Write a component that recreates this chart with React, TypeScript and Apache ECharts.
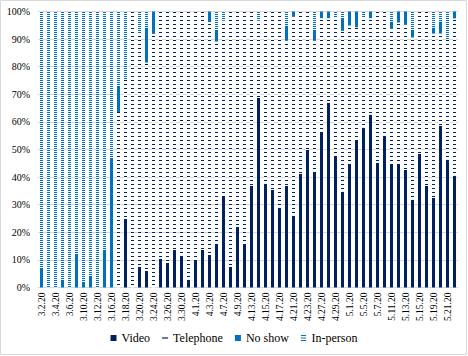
import React, { useEffect, useRef } from 'react';
import * as echarts from 'echarts';

const categories = [
  '3.2.20', '3.3.20', '3.4.20', '3.5.20', '3.6.20',
  '3.9.20', '3.10.20', '3.11.20', '3.12.20', '3.13.20',
  '3.16.20', '3.17.20', '3.18.20', '3.19.20', '3.20.20',
  '3.23.20', '3.24.20', '3.25.20', '3.26.20', '3.27.20',
  '3.30.20', '3.31.20', '4.1.20', '4.2.20', '4.3.20',
  '4.6.20', '4.7.20', '4.8.20', '4.9.20', '4.10.20',
  '4.13.20', '4.14.20', '4.15.20', '4.16.20', '4.17.20',
  '4.20.20', '4.21.20', '4.22.20', '4.23.20', '4.24.20',
  '4.27.20', '4.28.20', '4.29.20', '4.30.20', '5.1.20',
  '5.4.20', '5.5.20', '5.6.20', '5.7.20', '5.8.20',
  '5.11.20', '5.12.20', '5.13.20', '5.14.20', '5.15.20',
  '5.18.20', '5.19.20', '5.20.20', '5.21.20', '5.22.20',
];

const video = [
  0, 0, 0, 0, 0,
  0, 0, 0, 0, 0,
  0, 0, 24.9, 0, 7.5,
  6.0, 0, 10.4, 8.9, 13.6,
  11.5, 2.8, 10.0, 13.6, 11.8,
  15.8, 33.2, 7.5, 22.0, 15.8,
  36.8, 68.7, 37.6, 35.4, 28.9,
  36.8, 26.0, 41.2, 49.9, 41.9,
  56.4, 66.9, 47.7, 34.7, 44.8,
  53.5, 57.9, 62.6, 45.2, 55.0,
  44.8, 44.8, 42.6, 31.8, 48.4,
  36.8, 32.5, 58.6, 46.3, 40.5,
];

const telephone = [
  0, 0, 0, 0, 0,
  0, 0, 0, 0, 0,
  0, 63.6, 50.4, 100, 84.7,
  75.5, 91.9, 89.6, 91.1, 86.4,
  88.5, 97.2, 90.0, 86.4, 84.4,
  73.3, 63.5, 92.5, 78.0, 84.2,
  63.2, 28.0, 62.4, 64.6, 71.1,
  52.7, 72.2, 58.8, 50.1, 47.6,
  41.2, 30.7, 50.3, 58.3, 50.1,
  40.8, 40.1, 35.0, 54.8, 45.0,
  48.9, 51.2, 52.7, 58.8, 51.6,
  63.2, 59.5, 33.4, 43.4, 57.0,
];

const noShow = [
  7.1, 0, 0, 2.8, 0,
  12.2, 2.1, 4.2, 0, 13.6,
  46.9, 9.5, 0, 0, 0,
  12.7, 8.1, 0, 0, 0,
  0, 0, 0, 0, 3.8,
  4.2, 0, 0, 0, 0,
  0, 0, 0, 0, 0,
  5.4, 1.8, 0, 0, 3.9,
  2.4, 2.4, 0, 4.3, 5.1,
  5.7, 0, 2.4, 0, 0,
  2.7, 4.0, 4.7, 2.8, 0,
  0, 2.2, 4.4, 0, 2.5,
];

const inPerson = [
  92.9, 100, 100, 97.2, 100,
  87.8, 97.9, 95.8, 100, 86.4,
  53.1, 26.9, 24.7, 0, 7.8,
  5.8, 0, 0, 0, 0,
  0, 0, 0, 0, 0,
  6.7, 3.3, 0, 0, 0,
  0, 3.3, 0, 0, 0,
  5.1, 0, 0, 0, 6.6,
  0, 0, 2.0, 2.7, 0,
  0, 2.0, 0, 0, 0,
  3.6, 0, 0, 6.6, 0,
  0, 5.8, 3.6, 10.3, 0,
];

const yTicks = [0, 10, 20, 30, 40, 50, 60, 70, 80, 90, 100];

const NAVY = '#002060';
const BLUE = '#0070C0';
const FONT = '"Times New Roman", "Liberation Serif", "DejaVu Serif", serif';

function makePattern(color: string, tileH: number, lineH: number) {
  const c = document.createElement('canvas');
  c.width = 4;
  c.height = tileH;
  const ctx = c.getContext('2d')!;
  ctx.fillStyle = '#ffffff';
  ctx.fillRect(0, 0, 4, tileH);
  ctx.fillStyle = color;
  ctx.fillRect(0, 0, 4, lineH);
  return {
    image: c.toDataURL(),
    repeat: 'repeat',
    imageWidth: 4,
    imageHeight: tileH,
  } as any;
}

export default function App() {
  const ref = useRef<HTMLDivElement>(null);

  useEffect(() => {
    if (!ref.current) return;
    const chart = echarts.init(ref.current, undefined, { renderer: 'svg' });
    const telPattern = makePattern(NAVY, 4, 1);
    const inPattern = makePattern(BLUE, 2, 1);

    const barBase = {
      type: 'bar',
      stack: 'total',
      barWidth: 3,
    };

    chart.setOption({
      animation: false,
      backgroundColor: '#ffffff',
      textStyle: { fontFamily: FONT },
      graphic: [
        {
          type: 'rect',
          shape: { x: 0.5, y: 0.5, width: 466, height: 354 },
          style: { fill: 'none', stroke: '#D9D9D9', lineWidth: 1 },
          silent: true,
        },
      ],
      grid: { left: 38, right: 10, top: 11.5, bottom: 68.5, containLabel: false },
      legend: {
        bottom: 7,
        left: 'center',
        itemWidth: 6,
        itemHeight: 6,
        itemGap: 12,
        textStyle: { fontFamily: FONT, fontSize: 12, color: '#000' },
        data: [
          { name: 'Video', icon: 'rect', itemStyle: { color: NAVY } },
          {
            name: 'Telephone',
            icon: 'path://M0,0H10V2H0Z',
            itemStyle: { color: NAVY },
          },
          { name: 'No show', icon: 'rect', itemStyle: { color: BLUE } },
          {
            name: 'In-person',
            icon: 'path://M0,0H6V1.2H0Z M0,2.9H6V4.1H0Z M0,5.8H6V7H0Z',
            itemStyle: { color: BLUE },
          },
        ],
      },
      xAxis: {
        type: 'category',
        data: categories,
        axisTick: { show: false },
        axisLine: { lineStyle: { color: '#D9D9D9' } },
        axisLabel: {
          rotate: 90,
          interval: 1,
          fontSize: 9.5,
          fontFamily: FONT,
          color: '#000',
          margin: 5,
        },
      },
      yAxis: {
        type: 'value',
        min: yTicks[0],
        max: yTicks[yTicks.length - 1],
        interval: 10,
        axisLine: { show: false },
        axisTick: { show: false },
        splitLine: { lineStyle: { color: '#D9D9D9' } },
        axisLabel: {
          formatter: '{value}%',
          fontSize: 10,
          fontFamily: FONT,
          color: '#000',
          margin: 8,
        },
      },
      series: [
        { ...barBase, name: 'Video', data: video, itemStyle: { color: NAVY } },
        { ...barBase, name: 'Telephone', data: telephone, itemStyle: { color: telPattern } },
        { ...barBase, name: 'No show', data: noShow, itemStyle: { color: BLUE } },
        { ...barBase, name: 'In-person', data: inPerson, itemStyle: { color: inPattern } },
      ],
    } as any);

    return () => {
      chart.dispose();
    };
  }, []);

  return (
    <div
      ref={ref}
      style={{ position: 'fixed', left: 0, top: 0, width: 468, height: 356 }}
    />
  );
}
